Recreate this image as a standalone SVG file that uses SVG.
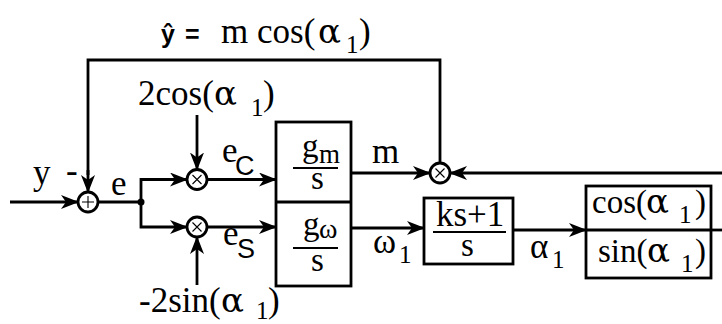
<svg xmlns="http://www.w3.org/2000/svg" width="722" height="324" viewBox="0 0 722 324">
<defs>
<marker id="ah" markerUnits="userSpaceOnUse" markerWidth="18" markerHeight="14" refX="17" refY="7" orient="auto">
<path d="M0,0 L18,7 L0,14 L5,7 z" fill="#000"/>
</marker>
<style>
.ln{fill:none;stroke:#000;stroke-width:2.8}
.arr{fill:none;stroke:#000;stroke-width:2.8;marker-end:url(#ah)}
.bx{fill:#fff;stroke:#000;stroke-width:2.8}
.cir{fill:#fff;stroke:#000;stroke-width:2.8}
.thin{fill:none;stroke:#000;stroke-width:1.1}
.bar{stroke:#000;stroke-width:2.2}
text{font-family:"Liberation Serif","Times New Roman",serif;font-size:35px;fill:#000}
.sub{font-size:25px}
.al{font-family:"DejaVu Serif",serif;font-size:34px}
.ss{font-family:"Liberation Sans",Arial,sans-serif}
</style>
</defs>
<rect width="722" height="324" fill="#fff"/>
<g id="connectors">
<path class="arr" d="M10,202 H78"/>
<path class="ln" d="M440,163 V60 H88 V175"/>
<path class="arr" d="M88,170 V192"/>
<path class="ln" d="M98,202 H141"/>
<path class="arr" d="M141,202 V179.5 H187"/>
<path class="arr" d="M141,202 V227 H187"/>
<path class="arr" d="M197,115 V169.5"/>
<path class="arr" d="M197,285 V237"/>
<path class="arr" d="M207,179.5 H276"/>
<path class="arr" d="M207,227 H276"/>
<path class="arr" d="M351,173 H430"/>
<path class="arr" d="M722,173 H450"/>
<path class="arr" d="M351,228 H424"/>
<path class="arr" d="M513,230 H586"/>
<path class="ln" d="M711,230 H722"/>
<circle cx="141" cy="202" r="3.5" fill="#000"/>
</g>
<g id="sum">
<circle class="cir" cx="88" cy="202" r="10"/>
<path class="thin" d="M82,202 H94 M88,196 V208"/>
</g>
<g id="mulC">
<circle class="cir" cx="197" cy="179.5" r="10"/>
<path class="thin" d="M192.5,175 L201.5,184 M201.5,175 L192.5,184"/>
</g>
<g id="mulS">
<circle class="cir" cx="197" cy="227" r="10"/>
<path class="thin" d="M192.5,222.5 L201.5,231.5 M201.5,222.5 L192.5,231.5"/>
</g>
<g id="mulY">
<circle class="cir" cx="440" cy="173" r="10"/>
<path class="thin" d="M435.5,168.5 L444.5,177.5 M444.5,168.5 L435.5,177.5"/>
</g>
<g id="gain">
<rect class="bx" x="276" y="122" width="75" height="164"/>
<line class="ln" x1="276" y1="202" x2="351" y2="202"/>
<text x="302" y="157" style="font-size:33px">g<tspan x="319" y="163" style="font-size:27px">m</tspan></text>
<line class="bar" x1="293" y1="168" x2="338" y2="168"/>
<text x="311" y="189" style="font-size:33px">s</text>
<text x="303" y="235" style="font-size:33px">g<tspan x="319" y="238" style="font-size:28px">ω</tspan></text>
<line class="bar" x1="293" y1="248" x2="338" y2="248"/>
<text x="311" y="271" style="font-size:33px">s</text>
</g>
<g id="pi">
<rect class="bx" x="424" y="198" width="89" height="66"/>
<text x="436" y="226">ks+1</text>
<line class="bar" x1="433" y1="232" x2="506" y2="232"/>
<text x="461" y="256" style="font-size:33px">s</text>
</g>
<g id="trig">
<rect class="bx" x="586" y="186" width="125" height="92"/>
<line class="ln" x1="586" y1="230" x2="711" y2="230"/>
<text x="592" y="213" style="font-size:33px">cos(<tspan class="al" x="646">α</tspan><tspan class="sub" x="679" y="223">1</tspan><tspan x="695" y="213">)</tspan></text>
<text x="598" y="262" style="font-size:33px">sin(<tspan class="al" x="647">α</tspan><tspan class="sub" x="681" y="272">1</tspan><tspan x="695" y="262">)</tspan></text>
</g>
<g id="labels">
<text x="161" y="43" class="ss" style="font-weight:bold;font-size:25px">ŷ<tspan x="185">=</tspan></text>
<text x="221" y="43">m<tspan x="257">cos(</tspan><tspan class="al" x="318">α</tspan><tspan class="sub" x="346" y="53">1</tspan><tspan x="359" y="43">)</tspan></text>
<text x="138" y="105">2cos(<tspan class="al" x="214">α</tspan><tspan class="sub" x="251" y="116">1</tspan><tspan x="263" y="105">)</tspan></text>
<text x="139" y="312">-2sin(<tspan class="al" x="221">α</tspan><tspan class="sub" x="256" y="319">1</tspan><tspan x="268" y="312">)</tspan></text>
<text x="33" y="184">y</text>
<text x="66" y="182">-</text>
<text x="111" y="195">e</text>
<text x="222" y="162">e<tspan class="ss" style="font-size:27px" x="235" y="175">C</tspan></text>
<text x="223" y="245">e<tspan class="ss" style="font-size:27px" x="237" y="258">S</tspan></text>
<text x="372" y="163">m</text>
<text x="373" y="253">ω<tspan class="sub" x="399" y="263">1</tspan></text>
<text x="530" y="258">α<tspan class="sub" x="552" y="268">1</tspan></text>
</g>
</svg>
